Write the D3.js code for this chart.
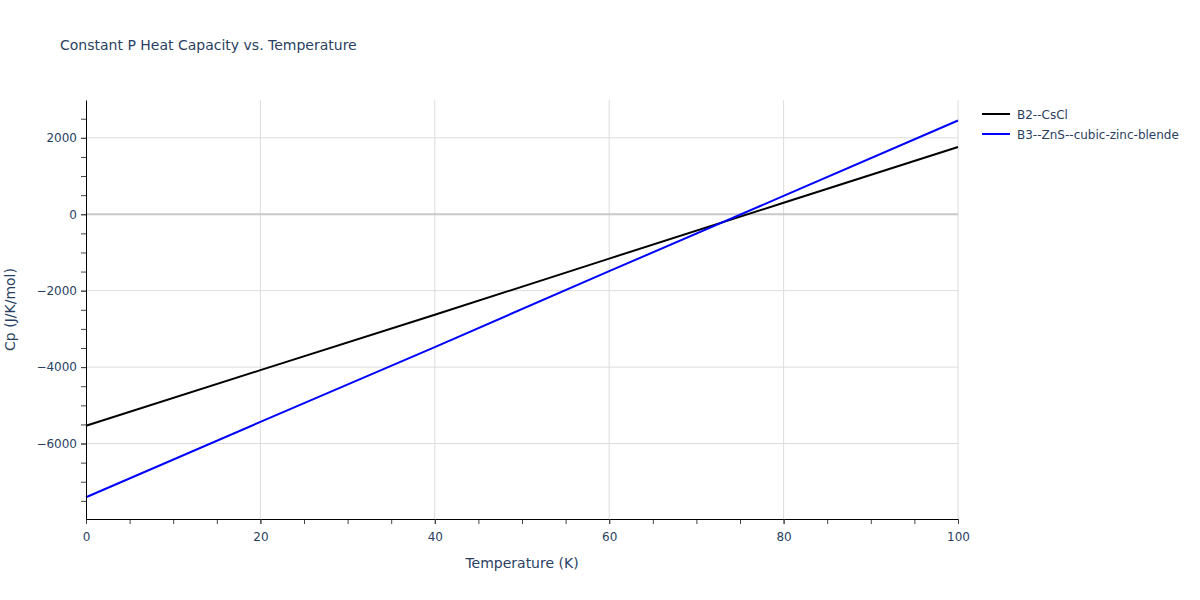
<!DOCTYPE html>
<html>
<head>
<meta charset="utf-8">
<script src="https://cdn.jsdelivr.net/npm/d3@7"></script>
<style>
  body { margin: 0; background: #fff; }
  text { font-family: "DejaVu Sans", verdana, arial, sans-serif; fill: #2a3f5f; }
</style>
</head>
<body>
<svg id="chart"></svg>
<script>
// values
const temps = [0, 20, 40, 60, 80, 100];
const cpB2 = [-5535, -4080, -2630, -1160, 300, 1760];
const cpB3 = [-7405, -5435, -3475, -1490, 480, 2454];
const seriesNames = ["B2--CsCl", "B3--ZnS--cubic-zinc-blende"];
const seriesColors = ["#000000", "#0000ff"];
const xTicks = [0, 20, 40, 60, 80, 100];
const yTicks = [-6000, -4000, -2000, 0, 2000];

const W = 1200, H = 600;
const margin = { top: 100, right: 242, bottom: 81, left: 86 };
const width = W - margin.left - margin.right;
const height = H - margin.top - margin.bottom;

const svg = d3.select("#chart").attr("width", W).attr("height", H);

svg.append("text")
  .attr("x", 60).attr("y", 50)
  .style("font-size", "14px")
  .text("Constant P Heat Capacity vs. Temperature");

const g = svg.append("g")
  .attr("transform", "translate(" + margin.left + "," + margin.top + ")");

const x = d3.scaleLinear().domain([0, 100]).range([0, width]);
const y = d3.scaleLinear().domain([-7975, 2990]).range([height, 0]);

// grid
g.append("g").selectAll("line")
  .data(xTicks.filter(d => d > 0))
  .enter().append("line")
  .attr("x1", d => x(d)).attr("x2", d => x(d))
  .attr("y1", 0).attr("y2", height)
  .attr("stroke", "#dcdcdc").attr("stroke-width", 1);

g.append("g").selectAll("line")
  .data(yTicks.filter(d => d !== 0))
  .enter().append("line")
  .attr("x1", 0).attr("x2", width)
  .attr("y1", d => y(d)).attr("y2", d => y(d))
  .attr("stroke", "#dcdcdc").attr("stroke-width", 1);

g.append("line")
  .attr("x1", 0).attr("x2", width)
  .attr("y1", y(0)).attr("y2", y(0))
  .attr("stroke", "#c8c8c8").attr("stroke-width", 2);

// lines
const line = d3.line()
  .x((d, i) => x(temps[i]))
  .y(d => y(d));

[cpB2, cpB3].forEach(function(s, i) {
  g.append("path")
    .datum(s)
    .attr("fill", "none")
    .attr("stroke", seriesColors[i])
    .attr("stroke-width", 2)
    .attr("d", line);
});

// axes: minor ticks first, then major with labels
g.append("g")
  .attr("transform", "translate(0," + height + ")")
  .call(d3.axisBottom(x).tickValues(d3.range(0, 101, 5)).tickSize(5).tickFormat(""))
  .call(a => a.select(".domain").remove())
  .selectAll("line").attr("stroke", "#444");

const xAxis = g.append("g")
  .attr("transform", "translate(0," + height + ")")
  .call(d3.axisBottom(x).tickValues(xTicks).tickSize(5).tickSizeOuter(0).tickPadding(8));
xAxis.select(".domain").attr("stroke", "#000");
xAxis.selectAll("line").attr("stroke", "#444");
xAxis.selectAll("text").style("font-size", "12px").attr("fill", "#2a3f5f");

g.append("g")
  .call(d3.axisLeft(y).tickValues(d3.range(-7500, 3000, 500)).tickSize(5).tickFormat(""))
  .call(a => a.select(".domain").remove())
  .selectAll("line").attr("stroke", "#444");

const yAxis = g.append("g")
  .call(d3.axisLeft(y).tickValues(yTicks).tickSize(5).tickSizeOuter(0).tickPadding(4)
    .tickFormat(d => d < 0 ? "\u2212" + Math.abs(d) : d));
yAxis.select(".domain").attr("stroke", "#000");
yAxis.selectAll("line").attr("stroke", "#444");
yAxis.selectAll("text").style("font-size", "12px").attr("fill", "#2a3f5f");

// axis titles
svg.append("text")
  .attr("x", margin.left + width / 2).attr("y", 568)
  .attr("text-anchor", "middle")
  .style("font-size", "14px")
  .text("Temperature (K)");

svg.append("text")
  .attr("transform", "translate(15," + (margin.top + height / 2) + ") rotate(-90)")
  .attr("text-anchor", "middle")
  .style("font-size", "14px")
  .text("Cp (J/K/mol)");

// legend
const legend = svg.append("g").attr("transform", "translate(982,114)");
seriesNames.forEach(function(n, i) {
  const row = legend.append("g").attr("transform", "translate(0," + i * 20 + ")");
  row.append("line")
    .attr("x1", 0).attr("x2", 28)
    .attr("stroke", seriesColors[i]).attr("stroke-width", 2);
  row.append("text")
    .attr("x", 35).attr("y", 4.5)
    .style("font-size", "12px")
    .text(n);
});
</script>
</body>
</html>
